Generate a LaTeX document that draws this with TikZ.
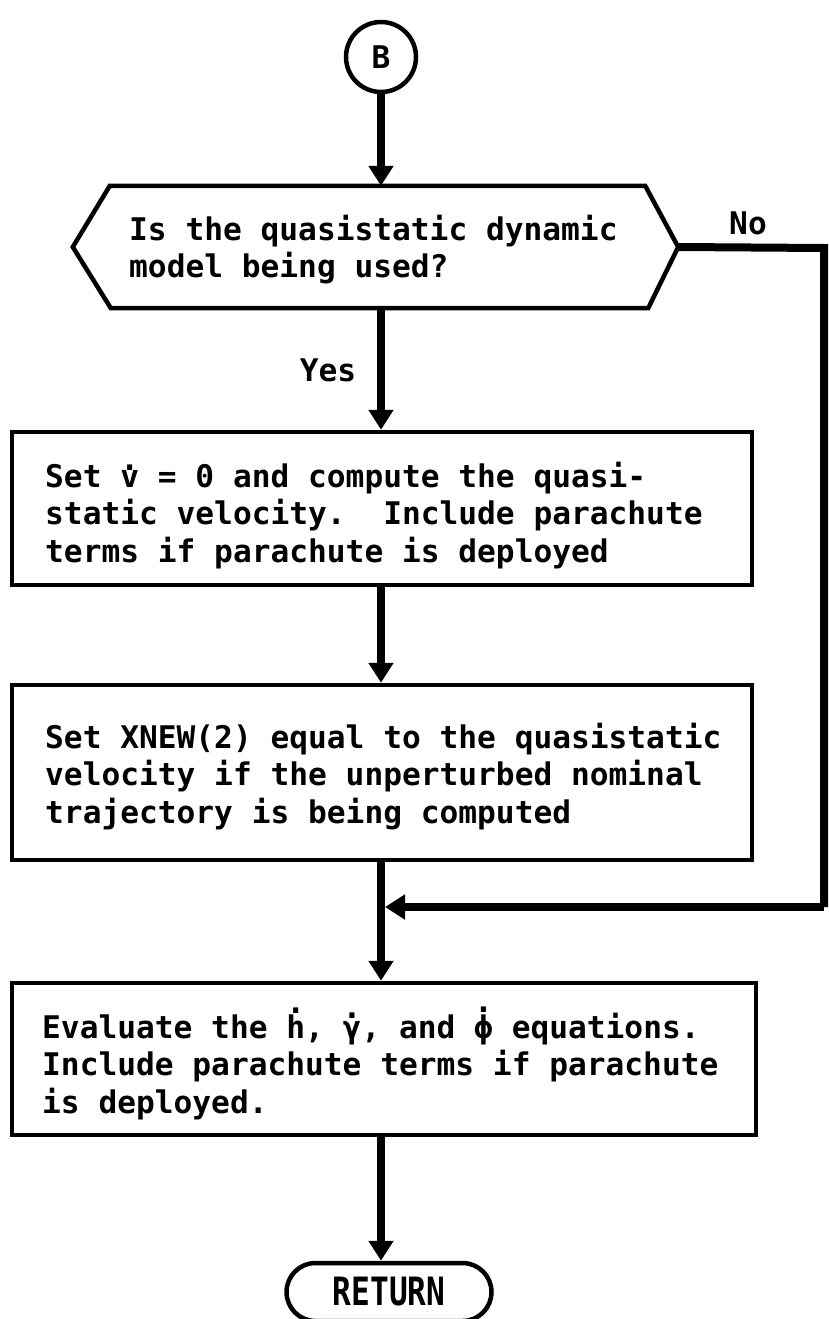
\documentclass[tikz,border=0pt]{standalone}
\usepackage{fontspec}
\newfontfamily\tw{DejaVu Sans Mono}
\usetikzlibrary{arrows.meta,shapes.misc}
\newcommand\dotover[2]{\ooalign{#1\cr\hidewidth\raisebox{#2}{.}\hidewidth\cr}}
\newcommand\twfont{\tw\bfseries\fontsize{31.2}{37.5}\selectfont\frenchspacing}
\newcommand\twspace{\spaceskip=0.602em\relax\xspaceskip=0.602em\relax}
\begin{document}
\begin{tikzpicture}[x=1pt,y=-1pt,line join=miter,
  box/.style={draw,line width=4.5pt,rectangle,inner sep=0pt},
  conn/.style={line width=8pt,-{Triangle[length=20pt,width=24pt]}},
  wire/.style={line width=8pt},
  txt/.style={font=\twfont,anchor=base west,inner sep=0pt,text width=760pt,align=left,
    execute at begin node=\twspace},
  lbl/.style={font=\twfont,inner sep=0pt}]
\useasboundingbox (0,0) rectangle (828,1319);
% nodes
\node[draw,circle,line width=4.5pt,minimum size=70pt,inner sep=0pt,lbl] (B) at (381,57) {B};
\node[inner sep=0pt,minimum width=605pt,minimum height=122pt] (q) at (375.5,247) {};
\draw[line width=4.5pt] (q.west) -- ([xshift=37pt]q.north west) -- ([xshift=-33pt]q.north east)
  -- (q.east) -- ([xshift=-30pt]q.south east) -- ([xshift=38pt]q.south west) -- cycle;
\node[txt] (qt) at (129,240) {Is the quasistatic dynamic\\model being used?};
\node[lbl] (yes) at (328,370) {Yes};
\node[lbl] (no) at (748,223) {No};
\node[box,minimum width=740pt,minimum height=153pt] (s1) at (382,508.5) {};
\node[txt] (t1) at (45,487) {Set \dotover{v}{0.52em} = 0 and compute the quasi-\\static velocity.\ \ Include parachute\\terms if parachute is deployed};
\node[box,minimum width=740pt,minimum height=175pt] (s2) at (382,772.5) {};
\node[txt] (t2) at (45,748) {Set XNEW(2) equal to the quasistatic\\velocity if the unperturbed nominal\\trajectory is being computed};
\node[box,minimum width=744pt,minimum height=152pt] (s3) at (384,1059) {};
\node[txt] (t3) at (42,1038) {Evaluate the \dotover{h}{0.8em}, \dotover{γ}{0.62em}, and \dotover{ϕ}{0.82em} equations.\\Include parachute terms if parachute\\is deployed.};
\node[draw,line width=4.5pt,rounded rectangle,minimum width=205pt,minimum height=58pt,inner sep=0pt,lbl] (ret) at (389,1292) {\raisebox{-4pt}{\scalebox{1}[1.25]{RETURN}}};
\coordinate (c1) at (824,248);
\coordinate (c2) at (824,907);
\coordinate (m) at (c2 -| B.south);
% connectors
\draw[conn] (B.south) -- (B.south |- q.north);
\draw[conn] (q.south -| B.south) -- (s1.north -| B.south);
\draw[conn] (s1.south -| B.south) -- (s2.north -| B.south);
\draw[conn] (s2.south -| B.south) -- (s3.north -| B.south);
\draw[conn] (s3.south -| B.south) -- (ret.north -| B.south);
\draw[wire] (q.east) -- (c1) -- (c2);
\draw[conn] (c2) -- ([xshift=4pt]m);
\end{tikzpicture}
\end{document}
